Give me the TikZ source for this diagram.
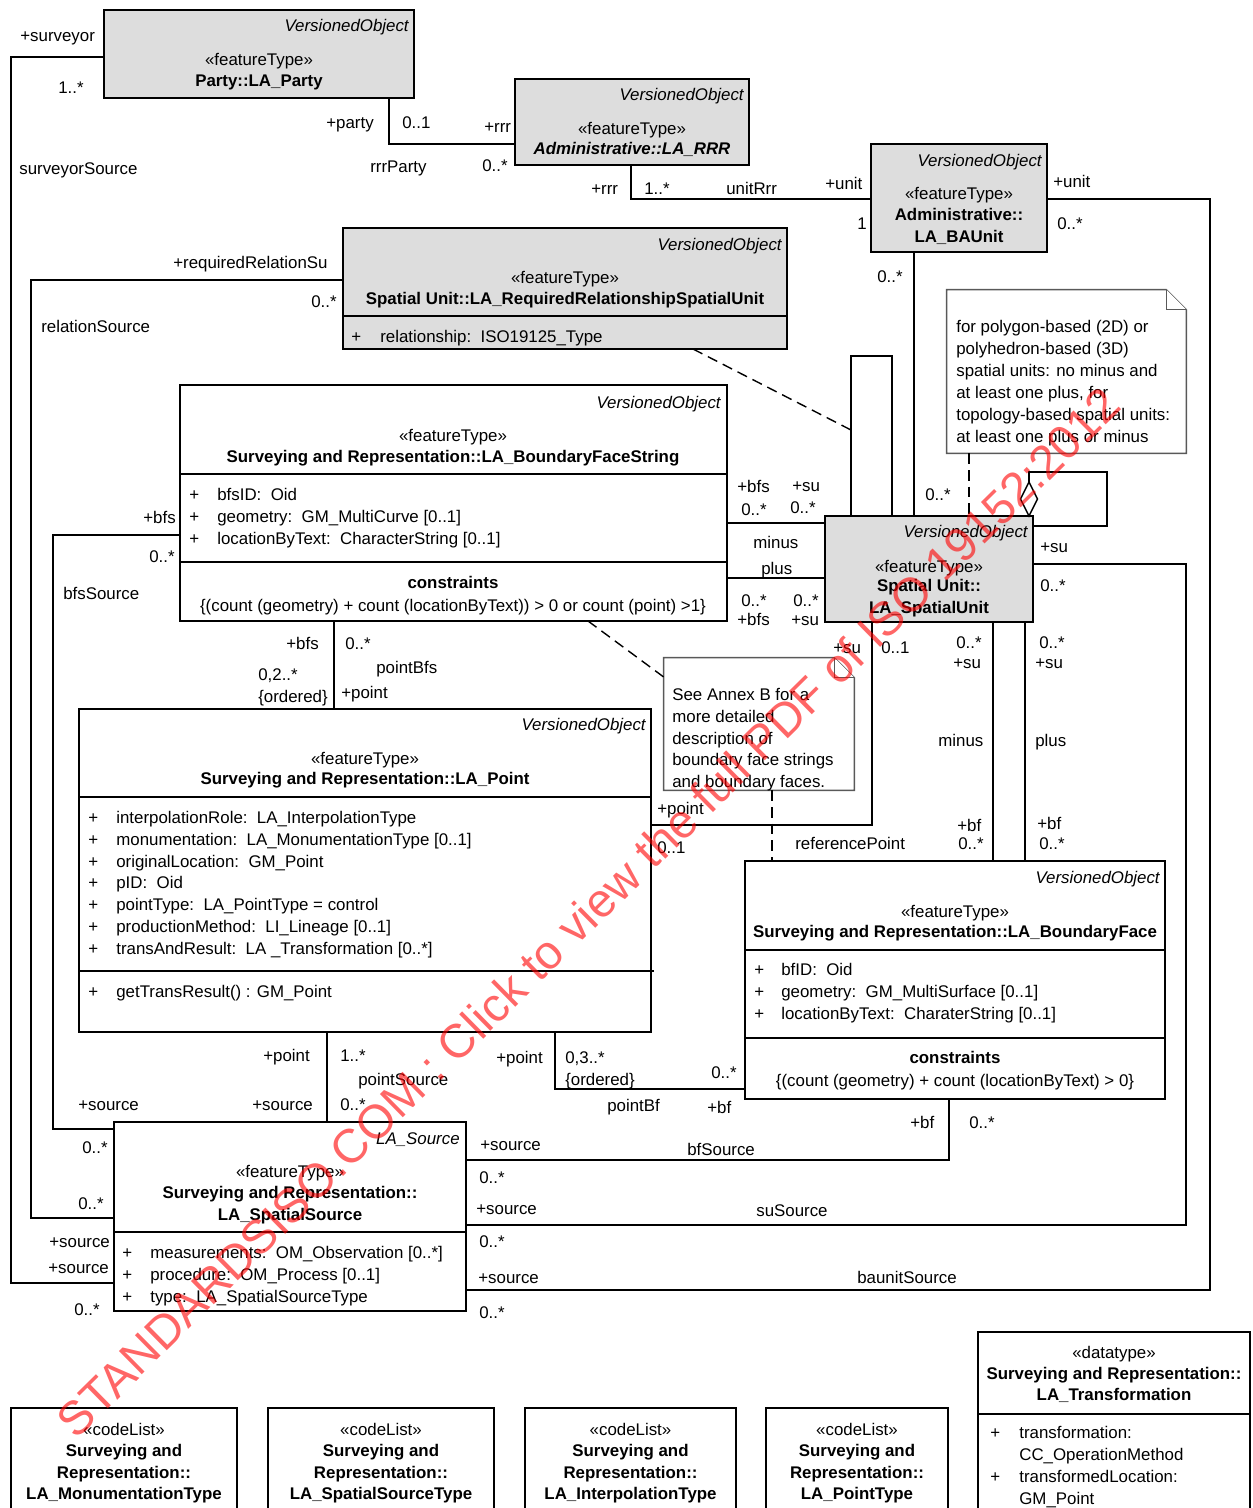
\documentclass[tikz,border=0pt]{standalone}
\usepackage{fontspec}
\setmainfont{Liberation Sans}
\usetikzlibrary{calc}
\definecolor{boxgray}{RGB}{221,221,221}
\newcommand{\mylab}[4]{\node[t] (#1) at (#2,#3) {#4};}
\begin{document}
\begin{tikzpicture}[x=0.02cm,y=-0.02cm,font=\fontsize{9.6}{12}\selectfont,
  cls/.style={draw,line width=1pt,inner sep=0pt,outer sep=0pt},
  gcls/.style={cls,fill=boxgray},
  conn/.style={line width=0.8pt},
  dsh/.style={line width=0.8pt,dash pattern=on 6pt off 3.5pt},
  t/.style={inner sep=0pt,anchor=mid west,yshift=-0.035cm},
  tc/.style={inner sep=0pt,anchor=mid,yshift=-0.035cm},
  vo/.style={inner sep=0pt,anchor=mid east,yshift=-0.035cm,font=\fontsize{9.6}{12}\selectfont\itshape},
  bn/.style={inner sep=0pt,anchor=mid,yshift=-0.035cm,font=\fontsize{9.6}{12}\selectfont\bfseries},
  notep/.style={draw=black!65,line width=0.8pt,fill=white}]
\useasboundingbox (0,0) rectangle (1252,1508);
\clip (0,0) rectangle (1252,1508);
\fill[white] (0,0) rectangle (1252,1508);

% ---------------- class boxes ----------------
\node[gcls,minimum width=6.2cm,minimum height=1.76cm] (party) at (259,54) {};
\node[vo] (party-vo) at (409,25) {VersionedObject};
\node[tc] (party-st) at (259,59) {«featureType»};
\node[bn] (party-nm) at (259,80) {Party::LA\_Party};

\node[gcls,minimum width=4.68cm,minimum height=1.72cm] (rrr) at (632,122) {};
\node[vo] (rrr-vo) at (744,94) {VersionedObject};
\node[tc] (rrr-st) at (632,128) {«featureType»};
\node[bn,font=\fontsize{9.6}{12}\selectfont\bfseries\itshape] (rrr-nm) at (632,148) {Administrative::LA\_RRR};

\node[gcls,minimum width=3.52cm,minimum height=2.16cm] (bau) at (959,198) {};
\node[vo] (bau-vo) at (1042,160) {VersionedObject};
\node[tc] (bau-st) at (959,193) {«featureType»};
\node[bn] (bau-n1) at (959,214) {Administrative::};
\node[bn] (bau-n2) at (959,236) {LA\_BAUnit};

\node[gcls,minimum width=8.88cm,minimum height=2.42cm] (rrsu) at (565,288.5) {};
\draw[line width=1pt] (343,316) -- (787,316);
\node[vo] (rrsu-vo) at (782,244) {VersionedObject};
\node[tc] (rrsu-st) at (565,277) {«featureType»};
\node[bn] (rrsu-nm) at (565,298) {Spatial Unit::LA\_RequiredRelationshipSpatialUnit};
\node[t] (rrsu-p) at (351,336) {+};
\node[t] (rrsu-a) at (380,336) {relationship:\ \ ISO19125\_Type};

\node[cls,fill=white,minimum width=10.94cm,minimum height=4.72cm] (bfs) at (453.5,503) {};
\draw[line width=1pt] (180,474) -- (727,474) (180,562) -- (727,562);
\node[vo] (bfs-vo) at (721,402) {VersionedObject};
\node[tc] (bfs-st) at (453,435) {«featureType»};
\node[bn] (bfs-nm) at (453,456) {Surveying and Representation::LA\_BoundaryFaceString};
\foreach \s [count=\i from 0] in {{bfsID:\ \ Oid},{geometry:\ \ GM\_MultiCurve [0..1]},{locationByText:\ \ CharacterString [0..1]}}{
  \node[t] (bfs-p\i) at (189,494+22*\i) {+};
  \node[t] (bfs-a\i) at (217,494+22*\i) {\s};}
\node[bn] (bfs-cn) at (453,582) {constraints};
\node[tc] (bfs-ct) at (453,605) {\{(count (geometry) + count (locationByText)) > 0 or count (point) >1\}};

\node[gcls,minimum width=4.16cm,minimum height=2.12cm] (su) at (929,569) {};
\node[vo] (su-vo) at (1028,531) {VersionedObject};
\node[tc] (su-st) at (929,566) {«featureType»};
\node[bn] (su-n1) at (929,585) {Spatial Unit::};
\node[bn] (su-n2) at (929,607) {LA\_SpatialUnit};

\node[cls,fill=white,minimum width=11.44cm,minimum height=6.46cm] (pt) at (365,870.5) {};
\draw[line width=1pt] (79,797) -- (651,797) (79,971) -- (654,971);
\node[vo] (pt-vo) at (646,724) {VersionedObject};
\node[tc] (pt-st) at (365,758) {«featureType»};
\node[bn] (pt-nm) at (365,778) {Surveying and Representation::LA\_Point};
\foreach \s [count=\i from 0] in {{interpolationRole:\ \ LA\_InterpolationType},{monumentation:\ \ LA\_MonumentationType [0..1]},{originalLocation:\ \ GM\_Point},{pID:\ \ Oid},{pointType:\ \ LA\_PointType = control},{productionMethod:\ \ LI\_Lineage [0..1]},{transAndResult:\ \ LA \_Transformation [0..*]}}{
  \node[t] (pt-p\i) at (88,817+21.8*\i) {+};
  \node[t] (pt-a\i) at (116,817+21.8*\i) {\s};}
\node[t] (pt-op) at (88,991) {+};
\node[t] (pt-o) at (116,991) {getTransResult() : GM\_Point};

\node[cls,fill=white,minimum width=8.4cm,minimum height=4.76cm] (bf) at (955,980) {};
\draw[line width=1pt] (745,950) -- (1165,950) (745,1038) -- (1165,1038);
\node[vo] (bf-vo) at (1160,877) {VersionedObject};
\node[tc] (bf-st) at (955,911) {«featureType»};
\node[bn] (bf-nm) at (955,931) {Surveying and Representation::LA\_BoundaryFace};
\foreach \s [count=\i from 0] in {{bfID:\ \ Oid},{geometry:\ \ GM\_MultiSurface [0..1]},{locationByText:\ \ CharaterString [0..1]}}{
  \node[t] (bf-p\i) at (754,969+22*\i) {+};
  \node[t] (bf-a\i) at (781,969+22*\i) {\s};}
\node[bn] (bf-cn) at (955,1057) {constraints};
\node[tc] (bf-ct) at (955,1080) {\{(count (geometry) + count (locationByText) > 0\}};

\node[cls,fill=white,minimum width=7.04cm,minimum height=3.78cm] (src) at (290,1216.5) {};
\draw[line width=1pt] (114,1232) -- (466,1232);
\node[vo] (src-vo) at (460,1138) {LA\_Source};
\node[tc] (src-st) at (290,1171) {«featureType»};
\node[bn] (src-n1) at (290,1192) {Surveying and Representation::};
\node[bn] (src-n2) at (290,1214) {LA\_SpatialSource};
\foreach \s [count=\i from 0] in {{measurements:\ \ OM\_Observation [0..*]},{procedure:\ \ OM\_Process [0..1]},{type:\ \ LA\_SpatialSourceType}}{
  \node[t] (src-p\i) at (122,1252+22*\i) {+};
  \node[t] (src-a\i) at (150,1252+22*\i) {\s};}

% code lists
\foreach \nm/\cx/\w/\ty in {cla/124/4.52/LA\_MonumentationType,clb/381/4.52/LA\_SpatialSourceType,clc/630.5/4.22/LA\_InterpolationType,cld/857/3.64/LA\_PointType}{
  \node[cls,fill=white,minimum width=\w cm,minimum height=2.44cm] (\nm) at (\cx,1469) {};
  \node[tc] (\nm-st) at (\cx,1429) {«codeList»};
  \node[bn] (\nm-n1) at (\cx,1450) {Surveying and};
  \node[bn] (\nm-n2) at (\cx,1472) {Representation::};
  \node[bn] (\nm-n3) at (\cx,1493) {\ty};}

\node[cls,fill=white,minimum width=5.44cm,minimum height=3.96cm] (tr) at (1114,1431) {};
\draw[line width=1pt] (978,1414) -- (1250,1414);
\node[tc] (tr-st) at (1114,1352) {«datatype»};
\node[bn] (tr-n1) at (1114,1373) {Surveying and Representation::};
\node[bn] (tr-n2) at (1114,1394) {LA\_Transformation};
\node[t] (tr-p1) at (990,1432) {+};
\node[t] (tr-a1) at (1019,1432) {transformation:};
\node[t] (tr-a2) at (1019,1454) {CC\_OperationMethod};
\node[t] (tr-p3) at (990,1476) {+};
\node[t] (tr-a3) at (1019,1476) {transformedLocation:};
\node[t] (tr-a4) at (1019,1498) {GM\_Point};

% ---------------- notes ----------------
\node[minimum width=4.78cm,minimum height=3.26cm,inner sep=0pt] (note1) at (1066.5,371.5) {};
\draw[notep] (note1.north west) -- ([xshift=-0.4cm]note1.north east) -- ([yshift=-0.4cm]note1.north east) -- (note1.south east) -- (note1.south west) -- cycle;
\draw[notep] ([xshift=-0.4cm]note1.north east) -- ([xshift=-0.4cm,yshift=-0.4cm]note1.north east) -- ([yshift=-0.4cm]note1.north east);
\foreach \s [count=\i from 0] in {{for polygon-based (2D) or},{polyhedron-based (3D)},{spatial units: no minus and},{at least one plus, for},{topology-based spatial units:},{at least one plus or minus}}{
  \node[t] (n1-\i) at (956,326+22*\i) {\s};}

\node[minimum width=3.8cm,minimum height=2.64cm,inner sep=0pt] (note2) at (759,724) {};
\draw[notep] (note2.north west) -- ([xshift=-0.4cm]note2.north east) -- ([yshift=-0.4cm]note2.north east) -- (note2.south east) -- (note2.south west) -- cycle;
\draw[notep] ([xshift=-0.4cm]note2.north east) -- ([xshift=-0.4cm,yshift=-0.4cm]note2.north east) -- ([yshift=-0.4cm]note2.north east);
\foreach \s [count=\i from 0] in {{See Annex B for a},{more detailed},{description of},{boundary face strings},{and boundary faces.}}{
  \node[t] (n2-\i) at (672,694+21.8*\i) {\s};}

% ---------------- connectors ----------------
\coordinate (sv1) at (11,57); \coordinate (sv2) at (11,1283);
\draw[conn] (sv1 -| party.west) -- (sv1) -- (sv2) -- (sv2 -| src.west);
\coordinate (rp1) at (389,144);
\draw[conn] (rp1 |- party.south) -- (rp1) -- (rp1 -| rrr.west);
\coordinate (ur1) at (631,199);
\draw[conn] (ur1 |- rrr.south) -- (ur1) -- (ur1 -| bau.west);
\coordinate (bs1) at (914,400);
\draw[conn] (bs1 |- bau.south) -- (bs1 |- su.north);
\coordinate (bsr1) at (1210,199); \coordinate (bsr2) at (1210,1290);
\draw[conn] (bsr1 -| bau.east) -- (bsr1) -- (bsr2) -- (bsr2 -| src.east);
\coordinate (rs1) at (31,280); \coordinate (rs2) at (31,1218);
\draw[conn] (rs1 -| rrsu.west) -- (rs1) -- (rs2) -- (rs2 -| src.west);
\coordinate (fs1) at (53,535); \coordinate (fs2) at (53,1129);
\draw[conn] (fs1 -| bfs.west) -- (fs1) -- (fs2) -- (fs2 -| src.west);
\coordinate (mi) at (780,523); \coordinate (pl) at (780,578);
\draw[conn] (mi -| bfs.east) -- (mi -| su.west);
\draw[conn] (pl -| bfs.east) -- (pl -| su.west);
\coordinate (sr1) at (851,356); \coordinate (sr2) at (892,356); \coordinate (sr3) at (851,430);
\draw[conn] (sr1 |- su.north) -- (sr1) -- (sr2) -- (sr2 |- su.north);
\coordinate (rq1) at (693,349);
\draw[dsh] (rq1 |- rrsu.south) -- (sr3);
\coordinate (ag0) at (1029,482); \coordinate (ag1) at (1029,472);
\coordinate (ag2) at (1107,472); \coordinate (ag3) at (1107,526);
\draw[conn] (ag0) -- (ag1) -- (ag2) -- (ag3) -- (ag3 -| su.east);
\draw[conn,fill=white] (1029,482) -- (1037.5,499) -- (1029,516) -- (1020.5,499) -- cycle;
\coordinate (n1x) at (969,480);
\draw[dsh] (n1x |- note1.south) -- (n1x |- su.north);
\coordinate (rf1) at (872,825);
\draw[conn] (rf1 |- su.south) -- (rf1) -- (rf1 -| pt.east);
\coordinate (sb1) at (993,740); \coordinate (sb2) at (1025,740);
\draw[conn] (sb1 |- su.south) -- (sb1 |- bf.north);
\draw[conn] (sb2 |- su.south) -- (sb2 |- bf.north);
\coordinate (n2x) at (772,820);
\draw[dsh] (n2x |- note2.south) -- (n2x |- bf.north);
\coordinate (n2a) at (588,621); \coordinate (n2b) at (664,677);
\draw[dsh] (n2a |- bfs.south) -- (n2b -| note2.west);
\coordinate (pb) at (334,660);
\draw[conn] (pb |- bfs.south) -- (pb |- pt.north);
\coordinate (ps) at (327,1080);
\draw[conn] (ps |- pt.south) -- (ps |- src.north);
\coordinate (pf) at (555,1089);
\draw[conn] (pf |- pt.south) -- (pf) -- (pf -| bf.west);
\coordinate (bfc) at (949,1160);
\draw[conn] (bfc -| src.east) -- (bfc) -- (bfc |- bf.south);
\coordinate (ss1) at (1186,1225); \coordinate (ss2) at (1186,564);
\draw[conn] (ss1 -| src.east) -- (ss1) -- (ss2) -- (ss2 -| su.east);

% ---------------- connector labels ----------------
\mylab{l1}{20}{35}{+surveyor}
\mylab{l2}{58}{87}{1..*}
\mylab{l3}{19}{168}{surveyorSource}
\mylab{l4}{326}{122}{+party}
\mylab{l5}{402}{122}{0..1}
\mylab{l6}{484}{126}{+rrr}
\mylab{l7}{370}{166}{rrrParty}
\mylab{l8}{482}{165}{0..*}
\mylab{l9}{591}{188}{+rrr}
\mylab{l10}{644}{188}{1..*}
\mylab{l11}{726}{188}{unitRrr}
\mylab{l12}{825}{183}{+unit}
\mylab{l13}{857}{223}{1}
\mylab{l14}{1053}{181}{+unit}
\mylab{l15}{1057}{223}{0..*}
\mylab{l16}{877}{276}{0..*}
\mylab{l17}{173}{262}{+requiredRelationSu}
\mylab{l18}{311}{301}{0..*}
\mylab{l19}{41}{326}{relationSource}
\mylab{l20}{925}{494}{0..*}
\mylab{l21}{737}{486}{+bfs}
\mylab{l22}{792}{485}{+su}
\mylab{l23}{741}{509}{0..*}
\mylab{l24}{790}{507}{0..*}
\mylab{l25}{753}{542}{minus}
\mylab{l26}{761}{568}{plus}
\mylab{l27}{741}{600}{0..*}
\mylab{l28}{793}{600}{0..*}
\mylab{l29}{737}{619}{+bfs}
\mylab{l30}{791}{619}{+su}
\mylab{l31}{1040}{546}{+su}
\mylab{l32}{1040}{585}{0..*}
\mylab{l33}{143}{517}{+bfs}
\mylab{l34}{149}{556}{0..*}
\mylab{l35}{63}{593}{bfsSource}
\mylab{l36}{286}{643}{+bfs}
\mylab{l37}{345}{643}{0..*}
\mylab{l38}{376}{667}{pointBfs}
\mylab{l39}{258}{674}{0,2..*}
\mylab{l40}{258}{696}{\{ordered\}}
\mylab{l41}{341}{692}{+point}
\mylab{l42}{833}{647}{+su}
\mylab{l43}{881}{647}{0..1}
\mylab{l44}{657}{808}{+point}
\mylab{l45}{657}{847}{0..1}
\mylab{l46}{795}{843}{referencePoint}
\mylab{l47}{956}{642}{0..*}
\mylab{l48}{953}{662}{+su}
\mylab{l49}{938}{740}{minus}
\mylab{l50}{957}{825}{+bf}
\mylab{l51}{958}{843}{0..*}
\mylab{l52}{1039}{642}{0..*}
\mylab{l53}{1035}{662}{+su}
\mylab{l54}{1035}{740}{plus}
\mylab{l55}{1037}{823}{+bf}
\mylab{l56}{1039}{843}{0..*}
\mylab{l57}{263}{1055}{+point}
\mylab{l58}{340}{1055}{1..*}
\mylab{l59}{358}{1079}{pointSource}
\mylab{l60}{252}{1104}{+source}
\mylab{l61}{340}{1104}{0..*}
\mylab{l62}{78}{1104}{+source}
\mylab{l63}{82}{1147}{0..*}
\mylab{l64}{78}{1203}{0..*}
\mylab{l65}{49}{1241}{+source}
\mylab{l66}{48}{1267}{+source}
\mylab{l67}{74}{1309}{0..*}
\mylab{l68}{496}{1057}{+point}
\mylab{l69}{565}{1057}{0,3..*}
\mylab{l70}{565}{1079}{\{ordered\}}
\mylab{l71}{711}{1072}{0..*}
\mylab{l72}{607}{1105}{pointBf}
\mylab{l73}{707}{1107}{+bf}
\mylab{l74}{480}{1144}{+source}
\mylab{l75}{687}{1149}{bfSource}
\mylab{l76}{910}{1122}{+bf}
\mylab{l77}{969}{1122}{0..*}
\mylab{l78}{479}{1177}{0..*}
\mylab{l79}{476}{1208}{+source}
\mylab{l80}{756}{1210}{suSource}
\mylab{l81}{479}{1241}{0..*}
\mylab{l82}{478}{1277}{+source}
\mylab{l83}{857}{1277}{baunitSource}
\mylab{l84}{479}{1312}{0..*}

% ---------------- watermark ----------------
\node[rotate=44.6,inner sep=0pt,text=red,text opacity=0.6,font=\fontsize{27}{30}\selectfont] (wm) at (588,912) {STANDARDSISO.COM : Click to view the full PDF of ISO 19152:2012};
\end{tikzpicture}
\end{document}
